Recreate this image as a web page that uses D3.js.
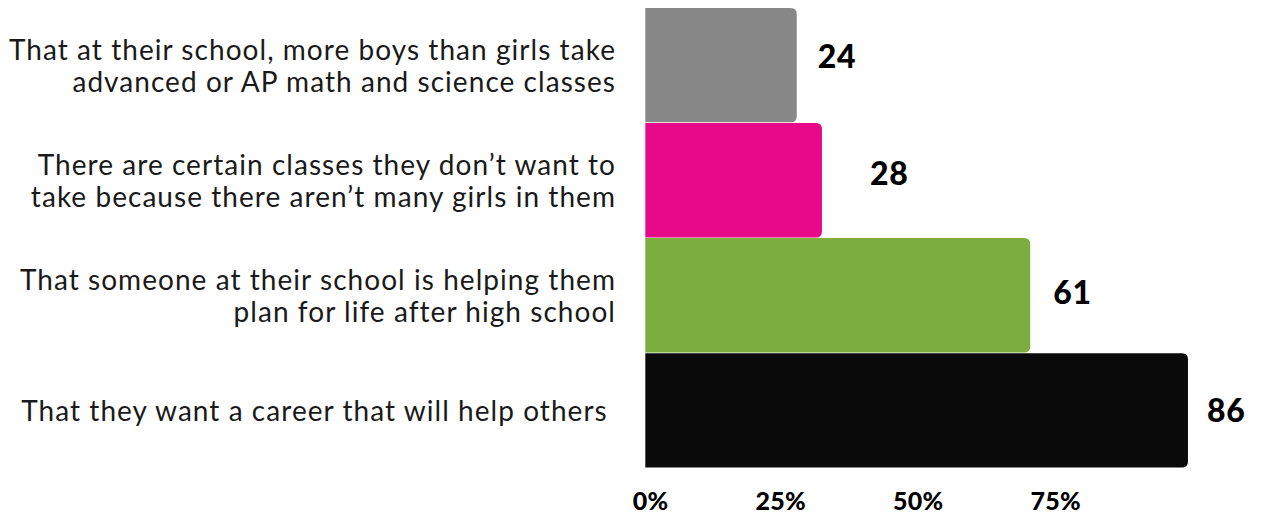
<!DOCTYPE html>
<html>
<head>
<meta charset="utf-8">
<script src="https://cdn.jsdelivr.net/npm/d3@7"></script>
<style>
  html, body { margin: 0; padding: 0; background: #ffffff; }
  svg { display: block; }
  .cat { font-family: Lato, "Noto Sans", sans-serif; font-weight: 400; fill: #1a1a1a; white-space: pre; letter-spacing: 1.05px; }
  .val { font-family: Lato, "Noto Sans", sans-serif; font-weight: 900; fill: #000000; letter-spacing: 0.8px; }
  .tick-label { font-family: Lato, "Noto Sans", sans-serif; font-weight: 900; fill: #000000; letter-spacing: 0.3px; }
</style>
</head>
<body>
<svg id="chart" width="1261" height="515"></svg>
<script>
// Survey statements (line breaks mark label wrapping)
const categories = [
  "That at their school, more boys than girls take\nadvanced or AP math and science classes",
  "There are certain classes they don\u2019t want to\ntake because there aren\u2019t many girls in them",
  "That someone at their school is helping them\nplan for life after high school",
  "That they want a career that will help others "
];
// Share of respondents, percent
const values = [24, 28, 61, 86];
const barColors = ["#878787", "#e8098a", "#7bae3f", "#0a0a0a"];
// Axis tick labels along the bottom
const tickValues = [0, 25, 50, 75];

const svg = d3.select("#chart");

const x = d3.scaleLinear().domain([0, 100]).range([645.3, 1276.3]);
const y = d3.scaleBand().domain(d3.range(categories.length)).range([8, 467.5]).paddingInner(0.006);

// Bottom tick labels sit on their own, slightly tighter scale
const xTicks = d3.scaleLinear().domain([0, 75]).range([668.5, 1081]);

const r = 6;
function barPath(x0, x1, y0, h) {
  const rr = Math.min(r, (x1 - x0), h / 2);
  return `M${x0},${y0}H${x1 - rr}Q${x1},${y0} ${x1},${y0 + rr}V${y0 + h - rr}Q${x1},${y0 + h} ${x1 - rr},${y0 + h}H${x0}Z`;
}

svg.append("g").selectAll("path")
  .data(values)
  .join("path")
  .attr("d", (d, i) => barPath(x(0), x(d), y(i), y.bandwidth()))
  .attr("fill", (d, i) => barColors[i]);

// Value labels to the right of each bar, with small per-label nudges
const valueNudge = [[21, -9], [48, -7], [23, -3], [19, 0]];
svg.append("g").selectAll("text")
  .data(values)
  .join("text")
  .attr("class", "val")
  .attr("x", (d, i) => x(d) + valueNudge[i][0])
  .attr("y", (d, i) => y(i) + y.bandwidth() / 2 + valueNudge[i][1])
  .attr("dy", "0.36em")
  .attr("font-size", 32)
  .text(d => d);

// Category labels, right aligned against the bars
const lineH = 31.7;
const catG = svg.append("g");
categories.forEach((c, i) => {
  const lines = c.split("\n");
  const cy = y(i) + y.bandwidth() / 2;
  const first = cy + 11 - (lines.length - 1) * lineH / 2;
  const t = catG.append("text")
    .attr("class", "cat")
    .attr("text-anchor", "end")
    .attr("font-size", 28);
  lines.forEach((ln, k) => {
    t.append("tspan").attr("x", 616).attr("y", first + k * lineH).text(ln);
  });
});

// Percent tick labels
svg.append("g").selectAll("text")
  .data(tickValues)
  .join("text")
  .attr("class", "tick-label")
  .attr("x", d => xTicks(d))
  .attr("y", 509.5)
  .attr("text-anchor", "end")
  .attr("font-size", 25)
  .text(d => d + "%");
</script>
</body>
</html>
